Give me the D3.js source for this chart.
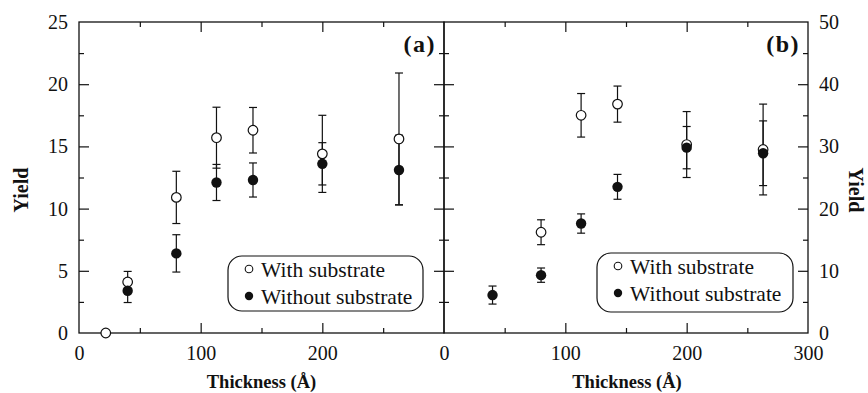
<!DOCTYPE html>
<html><head><meta charset="utf-8">
<script src="https://cdn.jsdelivr.net/npm/d3@7"></script>
<style>html,body{margin:0;padding:0;background:#fff;} svg{display:block;} text{font-family:"Liberation Serif","DejaVu Serif",serif;}</style>
</head><body>
<svg id="chart" width="868" height="393"></svg>
<script>
// ---- data ----
const xTicks = [0, 100, 200, 300];
const yTicksA = [0, 5, 10, 15, 20, 25];
const yTicksB = [0, 10, 20, 30, 40, 50];

// panel (a)
const thickA_with = [22, 40, 80, 113, 143, 200, 263];
const yieldA_with = [0, 4.1, 10.9, 15.7, 16.3, 14.4, 15.6];
const errA_with   = [0, 0.85, 2.1, 2.45, 1.83, 3.1, 5.3];
const thickA_without = [40, 80, 113, 143, 200, 263];
const yieldA_without = [3.4, 6.4, 12.1, 12.3, 13.6, 13.1];
const errA_without   = [0.95, 1.5, 1.45, 1.37, 1.7, 2.8];

// panel (b)
const thickB_with = [80, 113, 143, 200, 263];
const yieldB_with = [16.2, 35.0, 36.8, 30.3, 29.5];
const errB_with   = [2.0, 3.5, 2.9, 5.3, 7.3];
const thickB_without = [40, 80, 113, 143, 200, 263];
const yieldB_without = [6.1, 9.3, 17.6, 23.5, 29.8, 28.9];
const errB_without   = [1.45, 1.15, 1.55, 2.0, 3.4, 5.2];

const legendLabels = ["With substrate", "Without substrate"];

// ---- layout ----
const svg = d3.select("#chart");
const ink = "#111";
const serif = '"Liberation Serif","DejaVu Serif",serif';
const plotTop = 22, plotBottom = 333;
const panels = [
  {x0: 79, x1: 444, ymax: 25, yTicks: yTicksA, minorY: 2.5, label: "(a)",
   withX: thickA_with, withY: yieldA_with, withE: errA_with,
   woX: thickA_without, woY: yieldA_without, woE: errA_without,
   legend: {x: 228, y: 256, w: 195, h: 55}, xLabels: xTicks.slice(0, 3)},
  {x0: 444, x1: 808, ymax: 50, yTicks: yTicksB, minorY: 5, label: "(b)",
   withX: thickB_with, withY: yieldB_with, withE: errB_with,
   woX: thickB_without, woY: yieldB_without, woE: errB_without,
   legend: {x: 597, y: 253, w: 196, h: 59}, xLabels: xTicks}
];

panels.forEach((p, pi) => {
  const x = d3.scaleLinear().domain([0, 300]).range([p.x0, p.x1]);
  const y = d3.scaleLinear().domain([0, p.ymax]).range([plotBottom, plotTop]);
  const g = svg.append("g");

  g.append("rect").attr("x", p.x0).attr("y", plotTop).attr("width", p.x1 - p.x0).attr("height", plotBottom - plotTop)
    .attr("fill", "none").attr("stroke", ink).attr("stroke-width", 1.3);

  const styleAxis = sel => { sel.select(".domain").remove(); sel.selectAll("line").attr("stroke", ink).attr("stroke-width", 1.2); };
  const minorX = d3.range(50, 300, 100);
  const majorX = [100, 200];
  const majorY = p.yTicks.slice(1, -1);
  const minorY = d3.range(p.minorY, p.ymax, p.minorY * 2);

  g.append("g").attr("transform", `translate(0,${plotBottom})`).call(d3.axisTop(x).tickValues(majorX).tickSize(10).tickFormat("")).call(styleAxis);
  g.append("g").attr("transform", `translate(0,${plotBottom})`).call(d3.axisTop(x).tickValues(minorX).tickSize(5).tickFormat("")).call(styleAxis);
  g.append("g").attr("transform", `translate(0,${plotTop})`).call(d3.axisBottom(x).tickValues(majorX).tickSize(10).tickFormat("")).call(styleAxis);
  g.append("g").attr("transform", `translate(0,${plotTop})`).call(d3.axisBottom(x).tickValues(minorX).tickSize(5).tickFormat("")).call(styleAxis);
  g.append("g").attr("transform", `translate(${p.x0},0)`).call(d3.axisRight(y).tickValues(majorY).tickSize(10).tickFormat("")).call(styleAxis);
  g.append("g").attr("transform", `translate(${p.x0},0)`).call(d3.axisRight(y).tickValues(minorY).tickSize(5).tickFormat("")).call(styleAxis);
  g.append("g").attr("transform", `translate(${p.x1},0)`).call(d3.axisLeft(y).tickValues(majorY).tickSize(10).tickFormat("")).call(styleAxis);
  g.append("g").attr("transform", `translate(${p.x1},0)`).call(d3.axisLeft(y).tickValues(minorY).tickSize(5).tickFormat("")).call(styleAxis);

  const styleText = sel => {
    sel.attr("font-family", null).attr("font-size", null);
    sel.select(".domain").remove();
    sel.selectAll("text").style("font-family", serif).style("font-size", "20px").attr("fill", ink);
  };
  g.append("g").attr("transform", `translate(0,${plotBottom})`)
    .call(d3.axisBottom(x).tickValues(p.xLabels).tickSize(0).tickPadding(13).tickFormat(d3.format("d")))
    .call(styleText);

  if (pi === 0) {
    g.append("g").attr("transform", `translate(${p.x0},0)`)
      .call(d3.axisLeft(y).tickValues(p.yTicks).tickSize(0).tickPadding(11)).call(styleText);
  } else {
    g.append("g").attr("transform", `translate(${p.x1},0)`)
      .call(d3.axisRight(y).tickValues(p.yTicks).tickSize(0).tickPadding(11)).call(styleText);
  }

  g.append("text").attr("x", (p.x0 + p.x1) / 2 + (pi === 0 ? 0 : 1)).attr("y", 388).attr("text-anchor", "middle")
    .style("font-family", serif).style("font-weight", "bold").style("font-size", "18.5px").attr("fill", ink).text("Thickness (Å)");

  g.append("text").attr("x", p.x1 - 8).attr("y", 52).attr("text-anchor", "end")
    .style("font-family", serif).style("font-weight", "bold").style("font-size", "24px").style("letter-spacing", "1.5px").attr("fill", ink).text(p.label);

  const drawErr = (xs, ys, es) => {
    xs.forEach((xv, i) => {
      if (!es[i]) return;
      const cx = x(xv), yt = y(ys[i] + es[i]), yb = y(ys[i] - es[i]);
      g.append("line").attr("x1", cx).attr("x2", cx).attr("y1", yt).attr("y2", yb).attr("stroke", ink).attr("stroke-width", 1.2);
      [yt, yb].forEach(yy => g.append("line").attr("x1", cx - 4).attr("x2", cx + 4).attr("y1", yy).attr("y2", yy).attr("stroke", ink).attr("stroke-width", 1.2));
    });
  };
  drawErr(p.withX, p.withY, p.withE);
  drawErr(p.woX, p.woY, p.woE);

  g.selectAll(".open").data(p.withX.map((v, i) => [v, p.withY[i]])).enter().append("circle")
    .attr("cx", d => x(d[0])).attr("cy", d => y(d[1])).attr("r", 4.8)
    .attr("fill", "#fff").attr("stroke", ink).attr("stroke-width", 1.2);
  g.selectAll(".filled").data(p.woX.map((v, i) => [v, p.woY[i]])).enter().append("circle")
    .attr("cx", d => x(d[0])).attr("cy", d => y(d[1])).attr("r", 5.2)
    .attr("fill", ink);

  const L = p.legend;
  g.append("rect").attr("x", L.x).attr("y", L.y).attr("width", L.w).attr("height", L.h).attr("rx", 14).attr("ry", 14)
    .attr("fill", "#fff").attr("stroke", ink).attr("stroke-width", 1.2);
  const rowY = [L.y + 13, L.y + 40];
  g.append("circle").attr("cx", L.x + 21).attr("cy", rowY[0]).attr("r", 3.8).attr("fill", "#fff").attr("stroke", ink).attr("stroke-width", 1.1);
  g.append("circle").attr("cx", L.x + 21).attr("cy", rowY[1]).attr("r", 4.2).attr("fill", ink);
  legendLabels.forEach((t, i) => {
    g.append("text").attr("x", L.x + 33).attr("y", rowY[i] + 8).style("font-family", serif).style("font-size", "21.5px").attr("fill", ink).text(t);
  });
});

svg.append("text").attr("transform", "translate(28,190) rotate(-90)").attr("text-anchor", "middle")
  .style("font-family", serif).style("font-weight", "bold").style("font-size", "20px").attr("fill", ink).text("Yield");
svg.append("text").attr("transform", "translate(849,190) rotate(90)").attr("text-anchor", "middle")
  .style("font-family", serif).style("font-weight", "bold").style("font-size", "20px").attr("fill", ink).text("Yield");
</script>
</body></html>
